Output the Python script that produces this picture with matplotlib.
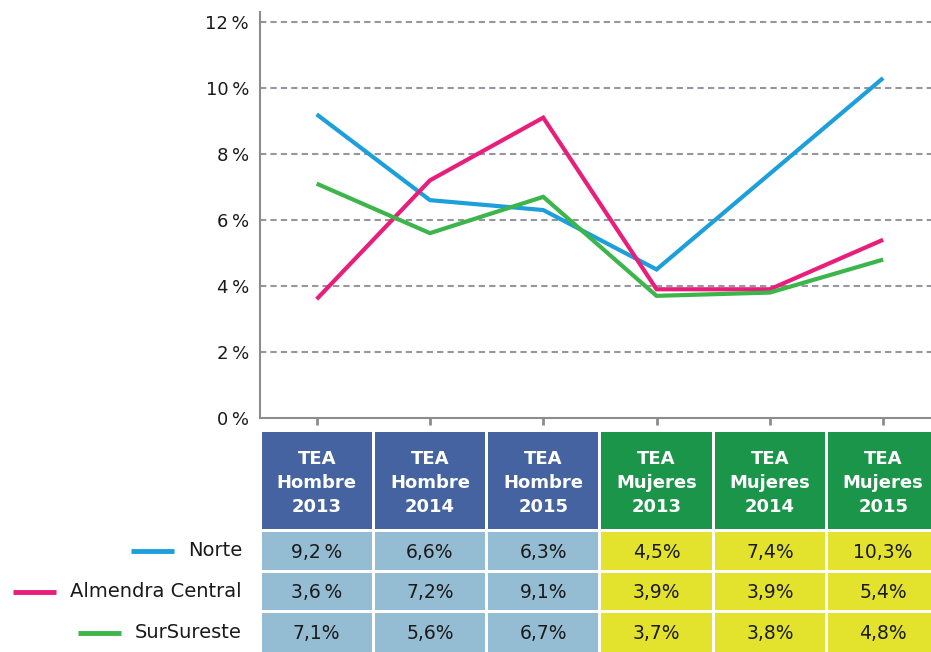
import numpy as np
import matplotlib.pyplot as plt
from matplotlib.patches import Rectangle

# datos
columnas = ["TEA\nHombre\n2013", "TEA\nHombre\n2014", "TEA\nHombre\n2015",
            "TEA\nMujeres\n2013", "TEA\nMujeres\n2014", "TEA\nMujeres\n2015"]
regiones = ["Norte", "Almendra Central", "SurSureste"]
norte = [9.2, 6.6, 6.3, 4.5, 7.4, 10.3]
almendra = [3.6, 7.2, 9.1, 3.9, 3.9, 5.4]
sursureste = [7.1, 5.6, 6.7, 3.7, 3.8, 4.8]
etiquetas = [
    ["9,2\u2009%", "6,6%", "6,3%", "4,5%", "7,4%", "10,3%"],
    ["3,6\u2009%", "7,2%", "9,1%", "3,9%", "3,9%", "5,4%"],
    ["7,1%", "5,6%", "6,7%", "3,7%", "3,8%", "4,8%"],
]
yticks = [0, 2, 4, 6, 8, 10, 12]
ytick_labels = ["0\u2009%", "2\u2009%", "4\u2009%", "6\u2009%", "8\u2009%", "10\u2009%", "12\u2009%"]

colores = ["#1c9fdb", "#e91e7a", "#3cb54a"]
col_cab = ["#4563a0"] * 3 + ["#1a954a"] * 3
col_dat = ["#94bcd2"] * 3 + ["#e3e22d"] * 3

plt.rcParams['font.family'] = ['DejaVu Sans']

W, H = 931, 652
fig = plt.figure(figsize=(W / 100, H / 100), dpi=100)

x0, x1 = 260, 931
ax = fig.add_axes([x0 / W, (H - 418) / H, (x1 - x0) / W, (418 - 12) / H])
x = np.arange(len(columnas))
xl = (-0.5, -0.5 + (x1 - x0) / 113.3)

for serie, c in zip([norte, almendra, sursureste], colores):
    ax.plot(x, serie, color=c, lw=3, solid_capstyle='butt', solid_joinstyle='miter', zorder=3)

ax.set_xlim(*xl)
ax.set_ylim(0, 12.3)
ax.set_yticks(yticks)
ax.set_yticklabels(ytick_labels, fontsize=13, color='#1a1a1a')
ax.set_xticks(x)
ax.set_xticklabels([])
ax.tick_params(axis='y', length=0, pad=8)
ax.tick_params(axis='x', length=5, width=2, color="#8c8c8c", direction='out')
for y in yticks[1:]:
    ax.axhline(y, color="#96979c", lw=1.5, ls=(0, (3, 2)), zorder=1)
for s in ['top', 'right']:
    ax.spines[s].set_visible(False)
for s in ['left', 'bottom']:
    ax.spines[s].set_color("#8c8c8c")
    ax.spines[s].set_linewidth(1.5)

# tabla
tx = fig.add_axes([x0 / W, 0, (x1 - x0) / W, (H - 428) / H])
tx.set_xlim(*xl)
tx.set_ylim(652, 428)
tx.axis('off')
g = 0.014
for i in x:
    tx.add_patch(Rectangle((i - 0.5 + g, 432), 1 - 2 * g, 97, color=col_cab[i], lw=0))
    tx.text(i, 483, columnas[i], ha='center', va='center', color='white',
            fontsize=13, fontweight='bold', linespacing=1.45)
filas = [(532, 38), (573, 37), (613, 39)]
for r, (top, h) in enumerate(filas):
    for i in x:
        tx.add_patch(Rectangle((i - 0.5 + g, top), 1 - 2 * g, h, color=col_dat[i], lw=0))
        tx.text(i, top + h / 2 + 1, etiquetas[r][i], ha='center', va='center',
                fontsize=13.5, color='#1a1a1a')

# etiquetas de fila con muestra de linea
fig.canvas.draw()
rend = fig.canvas.get_renderer()
for r, (top, h) in enumerate(filas):
    yc = 1 - (top + h / 2) / H
    t = fig.text(242 / W, yc, regiones[r], ha='right', va='center', fontsize=14, color='#1a1a1a')
    bb = t.get_window_extent(rend)
    xs = bb.x0 - 14
    fig.add_artist(plt.Line2D([(xs - 43) / W, xs / W], [yc, yc], color=colores[r], lw=3.5,
                              solid_capstyle='butt', transform=fig.transFigure))

fig.savefig("out.png", dpi=100)
